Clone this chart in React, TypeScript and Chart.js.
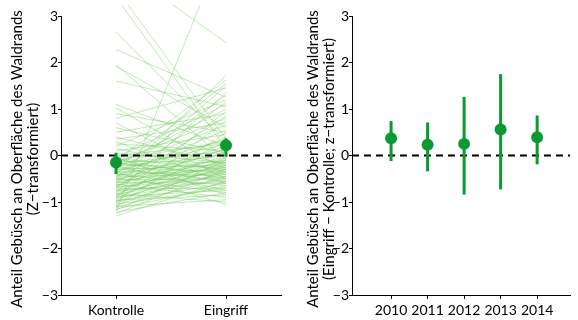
import React, { useEffect, useRef } from "react";
import { Chart, registerables } from "chart.js";
Chart.register(...registerables);

// ---- Data ----
const groupLabels = ["Kontrolle", "Eingriff"];
const kontrolle = [
  4.1, 3.6, 3.4, 2.65, 2.28, 1.95, 1.92, 1.6, 1.1, 1.02, 0.9, 0.8, 0.7, 0.6, 0.5, 0.4, 0.35, 0.3, 0.25, 0.2, 0.15, 0.1, 0.05, 0.0,
  -1.2, -0.5, -0.3, -0.8, -0.1, -0.6, -0.2, -0.9, -0.4, -0.7, -1.0, -0.05, -0.25, -0.45, -1.1, -0.15, -0.65, -0.35, -0.85, -0.55,
  -1.3, -1.25, -1.22, -1.18, -1.15, -1.12, -1.1, -1.08, -1.05, -1.02, -1.0, -0.98, -0.96, -0.94, -0.92, -0.9, -0.88, -0.86, -0.84, -0.82,
  -0.8, -0.78, -0.76, -0.74, -0.72, -0.7, -0.68, -0.66, -0.64, -0.62, -0.6, -0.58, -0.56, -0.54, -0.52, -0.5, -0.48, -0.46, -0.44, -0.42,
  -0.4, -0.38, -0.36, -0.34, -0.32, -0.3, -0.28, -0.26, -0.24, -0.22, -0.2, -0.18, -0.16, -0.14, -0.12, -0.1, -0.08, -0.06, -0.04, -0.02,
];
const eingriff = [
  2.43, 0.35, 0.15, 0.3, 1.25, -0.1, 0.6, 1.05, 0.2, -0.3, 0.5, 1.45, -0.5, 0.05, 0.9, -0.2, 0.7, -0.6, 0.1, 1.2, -0.35, 0.45, -0.15, 0.25,
  4.6, 1.72, 1.55, 1.35, 1.62, 1.15, 1.0, 0.95, 1.3, 0.85, 0.75, 1.1, 0.65, 0.55, 0.5, 0.8, 0.4, 0.35, 0.3, 1.5,
  -0.55, -0.3, -0.8, -0.1, -0.65, -0.45, -0.95, -0.2, -0.7, -0.35, -0.05, -0.6, -0.85, -0.25, 0.1, -0.5, -0.75, -0.15, -0.4, -1.0,
  -0.3, 0.0, -0.55, -0.1, -0.7, -0.2, -0.45, 0.15, -0.35, -0.9, -0.05, -0.6, -0.25, 0.2, -0.5, -0.15, -0.8, -0.4, 0.05, -0.3,
  -0.65, -0.1, -1.05, -0.45, 0.25, -0.2, -0.55, -0.35, 0.0, -0.75, -0.25, 0.1, -0.4, -0.6, -0.15, 0.3, -0.5, -0.3, -0.85, 0.05,
];
const groupMean = [-0.15, 0.22];
const groupLower = [-0.4, -0.03];
const groupUpper = [0.06, 0.37];

const years = [2010, 2011, 2012, 2013, 2014];
const diffMean = [0.37, 0.23, 0.25, 0.56, 0.39];
const diffLower = [-0.12, -0.34, -0.84, -0.73, -0.19];
const diffUpper = [0.74, 0.71, 1.26, 1.75, 0.86];

const yTicks = [-3, -2, -1, 0, 1, 2, 3];

const titleLeft = ["Anteil Gebüsch an Oberfläche des Waldrands", "(Z\u2212transformiert)"];
const titleRight = ["Anteil Gebüsch an Oberfläche des Waldrands", "(Eingriff \u2212 Kontrolle; z\u2212transformiert)"];

// ---- Styles ----
const FONT = "Lato";
const DARK = "#0a9932";
const LIGHT = "rgba(120, 205, 100, 0.45)";
const W = 289;
const H = 320;

function yScale(axisWidth: number) {
  return {
    type: "linear",
    min: -3,
    max: 3,
    afterBuildTicks: (s: any) => {
      s.ticks = yTicks.map((v) => ({ value: v }));
    },
    ticks: {
      font: { family: FONT, size: 14 },
      color: "#000",
      padding: 0,
      callback: (v: any) => String(v).replace("-", "\u2212"),
    },
    grid: { display: true, drawOnChartArea: false, drawTicks: true, tickLength: 3, color: "#000", lineWidth: 1 },
    border: { display: true, color: "#000", width: 1 },
    afterFit: (s: any) => {
      s.width = axisWidth;
    },
  };
}

function titlePlugin(lines: string[], xs: number[]) {
  return {
    id: "ytitle",
    afterDraw(chart: any) {
      const ctx = chart.ctx;
      ctx.save();
      ctx.fillStyle = "#000";
      ctx.font = `15px ${FONT}`;
      ctx.textAlign = "center";
      ctx.textBaseline = "middle";
      lines.forEach((t, i) => {
        ctx.save();
        ctx.translate(xs[i], 159);
        ctx.rotate(-Math.PI / 2);
        ctx.fillText(t, 0, 0);
        ctx.restore();
      });
      ctx.restore();
    },
  };
}

function LeftPanel() {
  const ref = useRef<HTMLCanvasElement>(null);
  useEffect(() => {
    const datasets: any[] = [];
    kontrolle.forEach((k, i) => {
      datasets.push({
        data: [
          { x: 1, y: k },
          { x: 2, y: eingriff[i] },
        ],
        borderColor: LIGHT,
        borderWidth: 1,
        pointRadius: 0,
        clip: { left: 0, top: 11, right: 0, bottom: 0 },
        order: 3,
      });
    });
    datasets.push({
      data: [
        { x: 0.5, y: 0 },
        { x: 2.5, y: 0 },
      ],
      borderColor: "#000",
      borderWidth: 2,
      borderDash: [7, 5],
      pointRadius: 0,
      order: 2,
    });
    groupMean.forEach((m, i) => {
      datasets.push({
        data: [
          { x: i + 1, y: groupLower[i] },
          { x: i + 1, y: groupUpper[i] },
        ],
        borderColor: DARK,
        borderWidth: 3,
        pointRadius: 0,
        order: 1,
      });
    });
    datasets.push({
      data: groupMean.map((m, i) => ({ x: i + 1, y: m })),
      showLine: false,
      pointRadius: 6,
      pointBackgroundColor: DARK,
      pointBorderWidth: 0,
      order: 0,
    });
    const chart = new Chart(ref.current!, {
      type: "line",
      data: { datasets },
      options: {
        responsive: false,
        animation: false,
        events: [],
        layout: { padding: { top: 16, right: 8, left: 0, bottom: 0 } },
        plugins: { legend: { display: false }, tooltip: { enabled: false } },
        scales: {
          x: {
            type: "linear",
            min: 0.5,
            max: 2.5,
            afterBuildTicks: (s: any) => {
              s.ticks = [{ value: 1 }, { value: 2 }];
            },
            ticks: {
              font: { family: FONT, size: 14 },
              color: "#000",
              padding: 3,
              maxRotation: 0,
              autoSkip: false,
              callback: (_v: any, idx: number) => groupLabels[idx],
            },
            grid: { display: true, drawOnChartArea: false, drawTicks: true, tickLength: 4, color: "#000" },
            border: { display: true, color: "#000", width: 1 },
            afterFit: (s: any) => {
              s.height = 25;
            },
          },
          y: yScale(61) as any,
        },
      } as any,
      plugins: [titlePlugin(titleLeft, [17.5, 33])],
    });
    return () => chart.destroy();
  }, []);
  return <canvas ref={ref} width={W} height={H} style={{ width: W, height: H, display: "block" }} />;
}

function RightPanel() {
  const ref = useRef<HTMLCanvasElement>(null);
  useEffect(() => {
    const datasets: any[] = [];
    datasets.push({
      data: [
        { x: 2008.93, y: 0 },
        { x: 2014.9, y: 0 },
      ],
      borderColor: "#000",
      borderWidth: 2,
      borderDash: [7, 5],
      pointRadius: 0,
      order: 2,
    });
    years.forEach((yr, i) => {
      datasets.push({
        data: [
          { x: yr, y: diffLower[i] },
          { x: yr, y: diffUpper[i] },
        ],
        borderColor: DARK,
        borderWidth: 3,
        pointRadius: 0,
        order: 1,
      });
    });
    datasets.push({
      data: years.map((yr, i) => ({ x: yr, y: diffMean[i] })),
      showLine: false,
      pointRadius: 6,
      pointBackgroundColor: DARK,
      pointBorderWidth: 0,
      order: 0,
    });
    const chart = new Chart(ref.current!, {
      type: "line",
      data: { datasets },
      options: {
        responsive: false,
        animation: false,
        events: [],
        layout: { padding: { top: 16, right: 8, left: 0, bottom: 0 } },
        plugins: { legend: { display: false }, tooltip: { enabled: false } },
        scales: {
          x: {
            type: "linear",
            min: 2008.93,
            max: 2014.9,
            afterBuildTicks: (s: any) => {
              s.ticks = years.map((v) => ({ value: v }));
            },
            ticks: {
              font: { family: FONT, size: 14 },
              color: "#000",
              padding: 3,
              maxRotation: 0,
              autoSkip: false,
              callback: (v: any) => String(v),
            },
            grid: { display: true, drawOnChartArea: false, drawTicks: true, tickLength: 4, color: "#000" },
            border: { display: true, color: "#000", width: 1 },
            afterFit: (s: any) => {
              s.height = 25;
            },
          },
          y: yScale(63) as any,
        },
      } as any,
      plugins: [titlePlugin(titleRight, [24.5, 40])],
    });
    return () => chart.destroy();
  }, []);
  return <canvas ref={ref} width={W} height={H} style={{ width: W, height: H, display: "block" }} />;
}

export default function App() {
  return (
    <div style={{ position: "fixed", left: 0, top: 0, width: 578, height: 320, background: "#fff", display: "flex" }}>
      <LeftPanel />
      <RightPanel />
    </div>
  );
}
